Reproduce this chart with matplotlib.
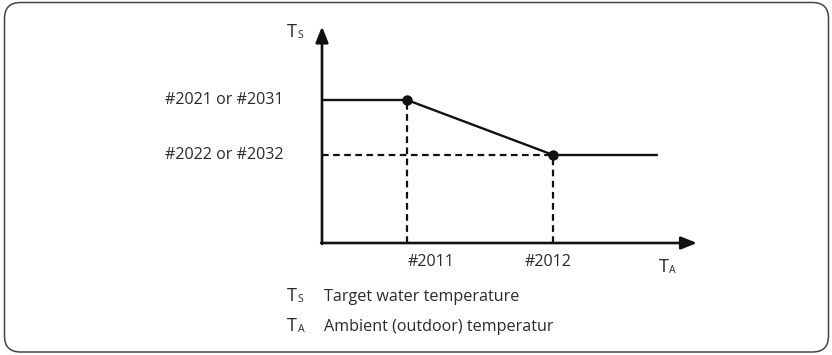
import matplotlib
matplotlib.use("Agg")
import matplotlib.pyplot as plt
from matplotlib.patches import FancyBboxPatch
from matplotlib.transforms import IdentityTransform

plt.rcParams['font.family'] = ['Open Sans', 'DejaVu Sans']

# curve break points (x: outdoor temp, y: target water temp), arbitrary units
ta_points = [0.0, 1.0, 2.72, 3.95]
ts_points = [1.625, 1.625, 1.0, 1.0]
ta_break_labels = ['#2011', '#2012']
ts_level_labels = ['#2021 or #2031', '#2022 or #2032']
legend_symbols = [('T', 'S'), ('T', 'A')]
legend_texts = ['Target water temperature', 'Ambient (outdoor) temperatur']

x_max, y_max = 4.41, 2.46
text_color = '#2a2a2a'
line_color = '#111111'

fig = plt.figure(figsize=(8.32, 3.55), dpi=100)
fig.patch.set_facecolor('white')

# rounded frame around the whole figure (pixel units)
frame = FancyBboxPatch((4.5, 3), 824, 349.5,
                       boxstyle="round,pad=0,rounding_size=16",
                       transform=IdentityTransform(),
                       facecolor='none', edgecolor='#444444', linewidth=1.1)
fig.add_artist(frame)

ax = fig.add_axes([322 / 832, (355 - 243) / 355, 375 / 832, 216.5 / 355])
ax.set_xlim(0, x_max)
ax.set_ylim(0, y_max)
ax.axis('off')

# axes with arrow heads
arrow_kw = dict(arrowstyle='-|>,head_length=0.95,head_width=0.38',
                color=line_color, lw=1.9, shrinkA=0, shrinkB=0)
ax.annotate('', xy=(x_max, 0), xytext=(-0.01, 0), arrowprops=arrow_kw,
            annotation_clip=False)
ax.annotate('', xy=(0, y_max), xytext=(0, -0.01), arrowprops=arrow_kw,
            annotation_clip=False)

# dashed guides to the break points
dash = dict(color=line_color, lw=1.6, linestyle=(0, (3.0, 2.0)))
ax.plot([ta_points[1], ta_points[1]], [0, ts_points[1]], **dash)
ax.plot([ta_points[2], ta_points[2]], [0, ts_points[2]], **dash)
ax.plot([0, ta_points[2]], [ts_points[2], ts_points[2]], **dash)

# characteristic curve
ax.plot(ta_points, ts_points, color=line_color, lw=1.7, solid_capstyle='butt')
ax.plot(ta_points[1:3], ts_points[1:3], 'o', color=line_color, ms=6.5)

fs = 11.6
# y level labels
for lvl, lab in zip([ts_points[0], ts_points[2]], ts_level_labels):
    ax.annotate(lab, xy=(0, lvl), xytext=(-27.5, 0), textcoords='offset points',
                ha='right', va='center', fontsize=fs, color=text_color,
                annotation_clip=False)
# x break labels
for xb, lab, dx in zip([ta_points[1], ta_points[2]], ta_break_labels, [17, -4]):
    ax.annotate(lab, xy=(xb, 0), xytext=(dx, -13.5), textcoords='offset points',
                ha='center', va='center', fontsize=fs, color=text_color,
                annotation_clip=False)


def sub_symbol(x, y, big, small, coords):
    t = ax.annotate(big, xy=(x, y), xycoords=coords, ha='left', va='baseline',
                    fontsize=fs + 1.5, color=text_color, annotation_clip=False)
    ax.annotate(small, xy=(1, 0), xycoords=t, xytext=(0.5, 0),
                textcoords='offset points', ha='left', va='bottom',
                fontsize=fs - 4, color=text_color)
    return t


# axis names
sub_symbol(-0.41, 2.34, 'T', 'S', 'data')
sub_symbol(3.96, -0.33, 'T', 'A', 'data')

# legend below the chart
for i, ((big, small), txt) in enumerate(zip(legend_symbols, legend_texts)):
    y = (355 - 301 - 30 * i) / 355
    sub_symbol(287 / 832, y, big, small, 'figure fraction')
    fig.text(324 / 832, y, txt, ha='left', va='baseline', fontsize=fs,
             color=text_color)

fig.savefig('out.png', dpi=100)
